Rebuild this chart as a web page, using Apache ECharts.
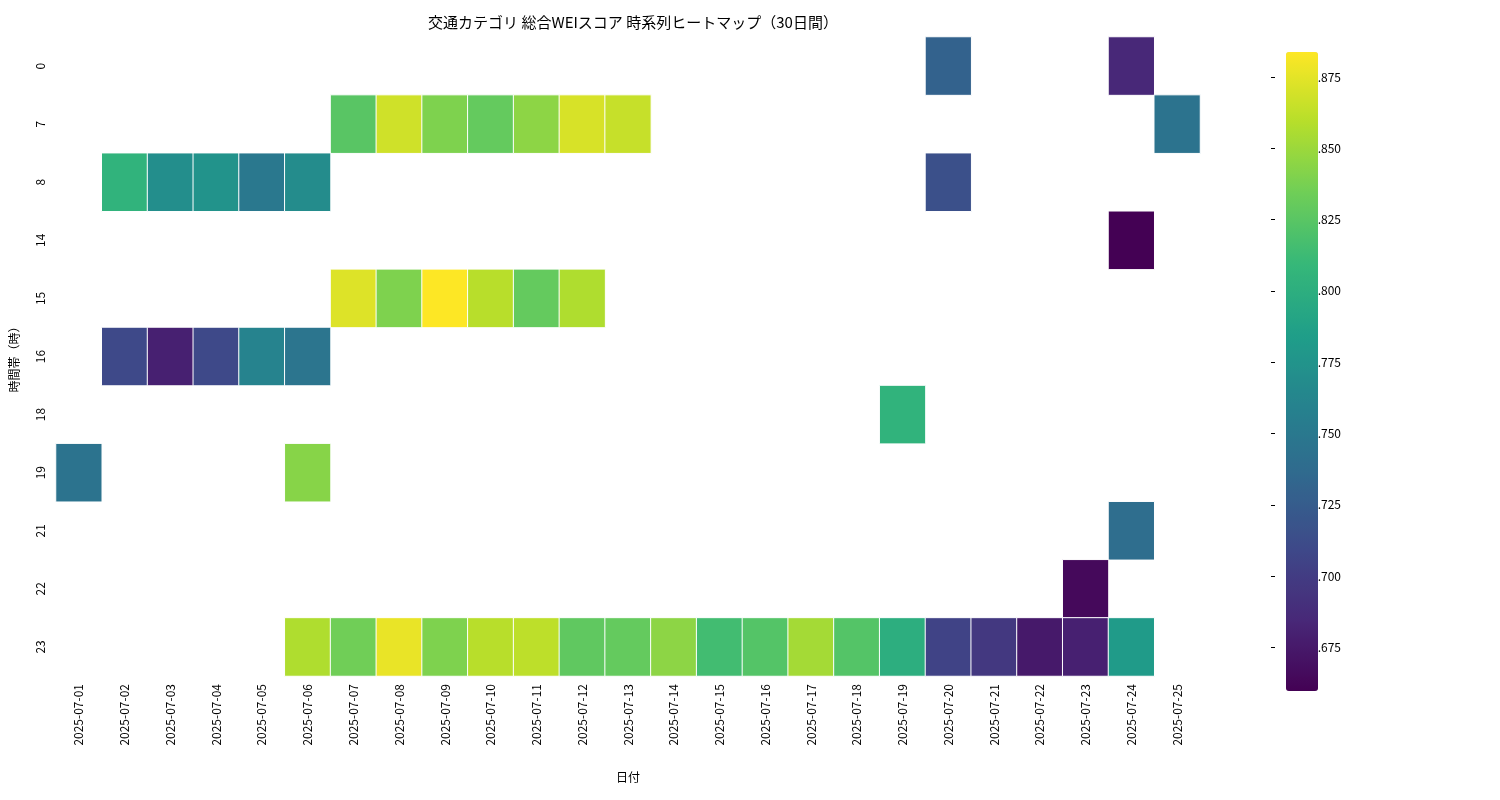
<!DOCTYPE html><html><head><meta charset="utf-8"><script src="https://cdn.jsdelivr.net/npm/echarts@6/dist/echarts.min.js"></script></head><body style="margin:0"><div id="c" style="width:1500px;height:800px"></div><script>
const dates=['2025-07-01','2025-07-02','2025-07-03','2025-07-04','2025-07-05','2025-07-06','2025-07-07','2025-07-08','2025-07-09','2025-07-10','2025-07-11','2025-07-12','2025-07-13','2025-07-14','2025-07-15','2025-07-16','2025-07-17','2025-07-18','2025-07-19','2025-07-20','2025-07-21','2025-07-22','2025-07-23','2025-07-24','2025-07-25'];
const hours=['0','7','8','14','15','16','18','19','21','22','23'];
const h0={'2025-07-20':0.735,'2025-07-24':0.69};
const h7={'2025-07-07':0.83,'2025-07-08':0.873,'2025-07-09':0.845,'2025-07-10':0.835,'2025-07-11':0.85,'2025-07-12':0.876,'2025-07-13':0.87,'2025-07-25':0.75};
const h8={'2025-07-02':0.81,'2025-07-03':0.775,'2025-07-04':0.78,'2025-07-05':0.755,'2025-07-06':0.773,'2025-07-20':0.72};
const h14={'2025-07-24':0.665};
const h15={'2025-07-07':0.878,'2025-07-08':0.845,'2025-07-09':0.889,'2025-07-10':0.865,'2025-07-11':0.835,'2025-07-12':0.862};
const h16={'2025-07-02':0.715,'2025-07-03':0.685,'2025-07-04':0.715,'2025-07-05':0.765,'2025-07-06':0.752};
const h18={'2025-07-19':0.81};
const h19={'2025-07-01':0.75,'2025-07-06':0.848};
const h21={'2025-07-24':0.745};
const h22={'2025-07-23':0.67};
const h23={'2025-07-06':0.862,'2025-07-07':0.84,'2025-07-08':0.882,'2025-07-09':0.845,'2025-07-10':0.865,'2025-07-11':0.867,'2025-07-12':0.833,'2025-07-13':0.835,'2025-07-14':0.85,'2025-07-15':0.82,'2025-07-16':0.828,'2025-07-17':0.858,'2025-07-18':0.828,'2025-07-19':0.805,'2025-07-20':0.71,'2025-07-21':0.702,'2025-07-22':0.68,'2025-07-23':0.685,'2025-07-24':0.787};
const rows=[h0,h7,h8,h14,h15,h16,h18,h19,h21,h22,h23];
const vmin=0.665,vmax=0.889;
const cbTicks=[0.675,0.7,0.725,0.75,0.775,0.8,0.825,0.85,0.875];
const data=[];
rows.forEach((r,i)=>{for(const d in r)data.push([dates.indexOf(d),i,r[d]]);});
const viridis=['#440154','#482878','#3e4989','#31688e','#26828e','#1f9e89','#35b779','#6ece58','#b5de2b','#fde725'];
const font='"Noto Sans CJK JP","Noto Sans",sans-serif';
const ch=echarts.init(document.getElementById('c'));
ch.setOption({
textStyle:{fontFamily:font},
title:{text:'交通カテゴリ 総合WEIスコア 時系列ヒートマップ（30日間）',left:628,top:10,textAlign:'center',textStyle:{fontSize:15,fontWeight:'normal',color:'#000',fontFamily:font}},
grid:[{left:56,right:300,top:37,bottom:124},{left:1271,width:32,top:37,bottom:124}],
xAxis:[{type:'category',data:dates,gridIndex:0,axisLine:{show:false},axisTick:{alignWithLabel:true,length:5,lineStyle:{color:'#000'}},axisLabel:{rotate:90,color:'#000',fontSize:12},name:'日付',nameLocation:'middle',nameGap:95,nameTextStyle:{color:'#000',fontSize:12}},
{type:'value',gridIndex:1,show:false}],
yAxis:[{type:'category',data:hours,inverse:true,gridIndex:0,axisLine:{show:false},axisTick:{alignWithLabel:true,length:5,lineStyle:{color:'#000'}},axisLabel:{rotate:90,color:'#000',fontSize:12,margin:10},name:'時間帯（時）',nameLocation:'middle',nameGap:36,nameRotate:90,nameTextStyle:{color:'#000',fontSize:12}},
{type:'value',gridIndex:1,position:'right',min:vmin,max:vmax,axisLine:{show:false},splitLine:{show:false},axisTick:{show:true,customValues:cbTicks,length:4,lineStyle:{color:'#000'}},axisLabel:{customValues:cbTicks,color:'#000',fontSize:12,formatter:v=>v.toFixed(3)}}],
visualMap:{min:vmin,max:vmax,calculable:false,left:1271,top:37,itemWidth:32,itemHeight:639,text:['',''],showLabel:false,inRange:{color:viridis},seriesIndex:0,hoverLink:false},
series:[{type:'heatmap',data:data,xAxisIndex:0,yAxisIndex:0,itemStyle:{borderColor:'#fff',borderWidth:1}}]
});
</script></body></html>
